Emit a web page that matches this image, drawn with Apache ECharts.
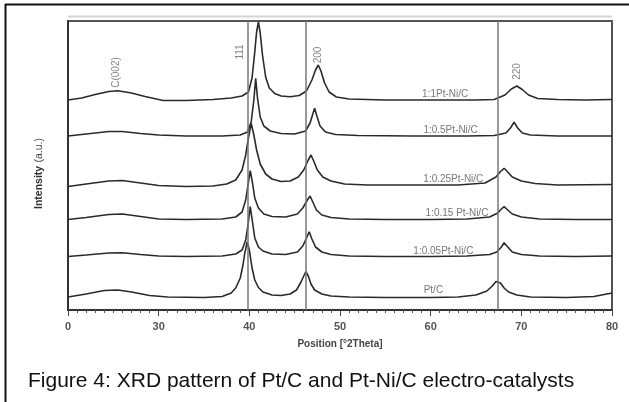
<!DOCTYPE html>
<html>
<head>
<meta charset="utf-8">
<script src="https://cdn.jsdelivr.net/npm/echarts@6/dist/echarts.min.js"></script>
<style>
html,body{margin:0;padding:0;background:#fff;}
#c{width:629px;height:402px;}
</style>
</head>
<body>
<div id="c"></div>
<script>
// ---- data (2Theta in degrees, intensity in arbitrary units, curves stacked with offsets) ----
var xTickLabels = ['0', '30', '40', '50', '60', '70', '80'];
var xTickValues = [20, 30, 40, 50, 60, 70, 80];

var ptC = [[20,13],[22,16],[24,19.5],[25.5,20],[27,18],[29,14.5],[31,13],[35,12.5],[37,13.5],[38,17],[38.5,22],[39,32],[39.3,45],[39.5,57],[39.76,68],[40.0,60],[40.3,42],[40.6,30],[41,22.5],[41.5,18],[42.5,15],[43.5,14.5],[44.5,16],[45.2,20],[45.7,28],[46.0,34],[46.24,38.3],[46.5,34],[46.8,26],[47.2,20],[48,16],[49,14],[51,13],[55,12.5],[60,12.5],[63,13],[65,15],[66.2,19],[66.8,24],[67.2,28.5],[67.4,30],[67.7,27],[68.1,22],[68.6,18],[69.5,15],[71,13],[75,12.5],[78,13.5],[80,17]];

var ni005 = [[20,53.5],[22,55],[24.5,57],[26,57.3],[28,55.5],[30,54],[33,53.5],[37,54],[38.5,56],[39.2,60],[39.6,70],[39.85,85],[40.1,103.3],[40.35,88],[40.6,72],[41,63],[41.5,59],[42.5,56],[44,55.5],[45.3,58],[45.9,64],[46.3,72],[46.6,78.3],[46.9,71],[47.3,63],[48,58],[49,55.5],[51,54],[55,53.5],[60,53.5],[64,54],[66.5,55.5],[67.3,58],[67.8,63],[68.1,67.3],[68.5,63],[69,58],[70,55.5],[72,54],[76,53.5],[80,54]];

var ni015 = [[20,90.5],[22,92.5],[24.5,95.5],[26,96],[28,93.5],[30,91],[33,90.5],[37,91],[38.5,93],[39.2,98],[39.6,110],[39.85,125],[40.1,139.3],[40.35,127],[40.6,112],[41,102],[41.6,96],[42.5,93.5],[44,93],[45.3,96],[45.9,102],[46.4,110],[46.7,114],[47,108],[47.4,100],[48,95],[49,92.5],[51,91],[55,90.5],[60,90.5],[64,91],[66.5,93],[67.4,97],[67.8,101],[68.1,103.3],[68.5,100],[69,96],[70,93],[72,91],[76,90.5],[80,90.5]];

var ni025 = [[20,123.5],[22,126],[24.5,129],[26,129.5],[28,127],[30,124.5],[33,123.5],[36,124],[37.5,126],[38.5,130],[39.2,140],[39.6,155],[39.9,172],[40.2,186.7],[40.5,175],[40.8,160],[41.2,146],[41.8,136],[42.5,131],[43.5,128.5],[44.5,129],[45.4,133],[46,140],[46.5,150],[46.8,155],[47.1,149],[47.5,140],[48.1,133],[49,129],[50.5,126],[53,125],[58,125],[63,125],[66,127],[67.2,133],[67.7,138.5],[68.1,141.7],[68.5,138],[69,133],[70,129],[71.5,126.5],[74,125],[80,125.5]];

var ni05 = [[20,174],[22,176],[24.5,178.5],[26,178.5],[28,176.5],[30,175],[33,174],[37,174],[39,175],[39.8,178],[40.2,188],[40.5,210],[40.7,231.7],[40.9,212],[41.2,193],[41.6,184],[42.3,179],[43.5,176.5],[45,176],[46.2,179],[46.7,187],[47.0,196],[47.2,201.7],[47.45,194],[47.8,184],[48.4,178],[49.5,175.5],[52,174.5],[58,174],[64,174],[67,174.5],[68.3,177],[68.8,182],[69.2,187.7],[69.6,182],[70.1,177],[71,175],[74,174],[80,174]];

var ni1 = [[20,210],[21.5,212],[23,215.5],[24.5,218.5],[25.5,219.3],[27,217],[28.5,213.5],[30.5,209.5],[33,209.5],[36,210.5],[38,212],[39.2,214],[39.9,218],[40.3,232],[40.6,258],[40.8,278],[41.0,288],[41.2,277],[41.45,255],[41.8,233],[42.2,222],[42.8,216.5],[43.5,214],[44.5,213.3],[45.5,214.5],[46.3,219],[46.9,230],[47.3,240],[47.6,245],[47.9,239],[48.3,227],[48.8,218],[49.6,213],[51,211],[55,210],[60,210],[65,210],[67,210.5],[68.2,215],[68.9,221],[69.5,224],[70.1,220.5],[70.8,215],[71.8,211.5],[74,210.5],[77,210],[80,210.5]];

var peakLines = [39.8, 46.25, 67.45];

var sampleNames = ['1:1Pt-Ni/C', '1:0.5Pt-Ni/C', '1:0.25Pt-Ni/C', '1:0.15 Pt-Ni/C', '1:0.05Pt-Ni/C', 'Pt/C'];
var sampleLabelAt = [[61.6,216],[62.2,179.3],[62.5,131],[62.9,97],[61.4,58.3],[60.3,19.3]];

var peakNames = ['C(002)', '111', '200', '220'];
var peakLabelAt = [[25.37,237.5],[38.98,258],[47.63,255],[69.53,238.5]];

var captionText = 'Figure 4: XRD pattern of Pt/C and Pt-Ni/C electro-catalysts';

// ---- chart ----
var chart = echarts.init(document.getElementById('c'), null, {renderer: 'canvas'});
var curves = [ni1, ni05, ni025, ni015, ni005, ptC];
var lineSeries = curves.map(function (d) {
  return {
    type: 'line', data: d, showSymbol: false, smooth: false,
    lineStyle: {color: '#2a2a2a', width: 1.6}, silent: true, z: 3
  };
});
lineSeries.push({
  type: 'line', data: [], showSymbol: false, silent: true,
  markLine: {
    symbol: ['none', 'none'], silent: true, animation: false,
    label: {show: false},
    lineStyle: {color: '#777', width: 1.5, type: 'solid'},
    data: peakLines.map(function (v) { return {xAxis: v}; })
  }
});
lineSeries.push({
  type: 'scatter', symbolSize: 0, silent: true, z: 5,
  data: sampleLabelAt.map(function (p, i) { return {value: p, name: sampleNames[i]}; }),
  label: {show: true, position: 'inside', formatter: '{b}', color: '#555',
    fontFamily: 'Liberation Sans', fontSize: 10}
});
lineSeries.push({
  type: 'scatter', symbolSize: 0, silent: true, z: 5,
  data: peakLabelAt.map(function (p, i) { return {value: p, name: peakNames[i]}; }),
  label: {show: true, position: 'inside', formatter: '{b}', rotate: 90, color: '#666',
    fontFamily: 'Liberation Sans', fontSize: 10}
});

chart.setOption({
  animation: false,
  backgroundColor: '#fff',
  grid: {left: 68, right: 17, top: 21, bottom: 92, show: true,
    borderColor: '#555', borderWidth: 2, backgroundColor: 'transparent'},
  xAxis: {
    type: 'value', min: 20, max: 80, interval: 10,
    name: 'Position [°2Theta]', nameLocation: 'middle', nameGap: 29,
    nameTextStyle: {fontFamily: 'Liberation Sans', fontSize: 10, fontWeight: 'bold', color: '#444'},
    axisLine: {show: true, lineStyle: {color: '#333', width: 2}},
    axisTick: {show: true, length: 6, lineStyle: {color: '#444', width: 1}},
    minorTick: {show: true, splitNumber: 10, length: 3, lineStyle: {color: '#555', width: 1}},
    splitLine: {show: false},
    axisLabel: {margin: 11, fontFamily: 'Liberation Sans', fontSize: 11, fontWeight: 'bold', color: '#555',
      formatter: function (v) { var i = xTickValues.indexOf(v); return i >= 0 ? xTickLabels[i] : ''; }}
  },
  yAxis: {
    type: 'value', min: 0, max: 289,
    name: '{b|Intensity} {n|(a.u.)}', nameLocation: 'middle', nameGap: 23, nameRotate: 90,
    nameTextStyle: {padding: [0, 16, 0, 0], rich: {
      b: {fontFamily: 'Liberation Sans', fontSize: 10.5, fontWeight: 'bold', color: '#333'},
      n: {fontFamily: 'Liberation Sans', fontSize: 10.5, color: '#444'}
    }},
    axisLine: {show: true, lineStyle: {color: '#333', width: 2}},
    axisTick: {show: false}, axisLabel: {show: false}, splitLine: {show: false}
  },
  graphic: [
    {type: 'line', shape: {x1: 68, y1: 16.5, x2: 612, y2: 16.5}, style: {stroke: '#d4d4d4', lineWidth: 2}, silent: true},
    {type: 'line', shape: {x1: 5, y1: 4.5, x2: 629, y2: 4.5}, style: {stroke: '#111', lineWidth: 2}, silent: true},
    {type: 'line', shape: {x1: 5.5, y1: 4, x2: 5.5, y2: 402}, style: {stroke: '#111', lineWidth: 2}, silent: true},
    {type: 'text', left: 28, top: 371, style: {text: captionText, fontFamily: 'Liberation Sans', fontSize: 21, fill: '#111'}, silent: true}
  ],
  series: lineSeries
});
</script>
</body>
</html>
